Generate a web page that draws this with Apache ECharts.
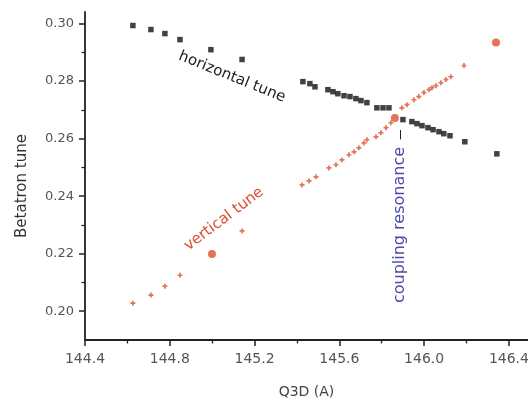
<!DOCTYPE html>
<html><head><meta charset="utf-8">
<script src="https://cdn.jsdelivr.net/npm/echarts@6/dist/echarts.min.js"></script>
<style>html,body{margin:0;padding:0;background:#fff}#c{width:528px;height:400px}</style>
</head><body><div id="c"></div>
<script>
// horizontal tune (black squares)
const hQ3D = [144.626,144.711,144.777,144.848,144.994,145.141,145.428,145.461,145.485,145.546,145.570,145.593,145.622,145.650,145.678,145.702,145.730,145.777,145.806,145.834,145.900,145.942,145.966,145.990,146.018,146.042,146.070,146.093,146.122,146.192,146.343];
const hTune = [0.2993,0.2979,0.2965,0.2944,0.2909,0.2875,0.2798,0.2791,0.2780,0.2770,0.2763,0.2756,0.2749,0.2746,0.2739,0.2732,0.2725,0.2707,0.2707,0.2707,0.2666,0.2659,0.2652,0.2645,0.2638,0.2631,0.2624,0.2617,0.2610,0.2589,0.2547];
// vertical tune (red crosses)
const vQ3D = [144.626,144.711,144.777,144.848,145.141,145.424,145.457,145.490,145.551,145.584,145.612,145.645,145.669,145.692,145.716,145.730,145.773,145.796,145.820,145.843,145.895,145.919,145.952,145.975,145.999,146.023,146.037,146.056,146.079,146.103,146.126,146.188];
const vTune = [0.2028,0.2056,0.2087,0.2125,0.2279,0.2439,0.2453,0.2467,0.2498,0.2509,0.2526,0.2544,0.2554,0.2568,0.2585,0.2596,0.2606,0.2620,0.2638,0.2655,0.2707,0.2718,0.2735,0.2746,0.2760,0.2770,0.2777,0.2784,0.2794,0.2805,0.2815,0.2854];
// vertical tune (red dots)
const vDotQ3D = [144.999,145.862,146.339];
const vDotTune = [0.2199,0.2672,0.2934];
// axes
const xTicks = [144.4,144.8,145.2,145.6,146.0,146.4];
const xMinorTicks = [144.6,145.0,145.4,145.8,146.2];
const yTicks = [0.20,0.22,0.24,0.26,0.28,0.30];
const yMinorTicks = [0.21,0.23,0.25,0.27,0.29];
const xName = 'Q3D (A)';
const yName = 'Betatron tune';

const zip = (a,b) => a.map((v,i)=>[v,b[i]]);
const FONT = '"DejaVu Sans", sans-serif';
const RED = '#dc5030';
const deg = d => d*Math.PI/180;

const chart = echarts.init(document.getElementById('c'), null, {renderer:'canvas'});
const axisCommon = {min:144.4, max:146.49, type:'value', splitLine:{show:false}};
chart.setOption({
  animation:false,
  backgroundColor:'#fff',
  grid:{left:85, right:0, top:12, bottom:60, containLabel:false, outerBoundsMode:'none'},
  xAxis:[
    Object.assign({}, axisCommon, {
      position:'bottom',
      axisLine:{onZero:false, lineStyle:{color:'#222', width:1.8}},
      axisTick:{show:true, inside:false, length:6, customValues:xTicks, lineStyle:{color:'#222', width:1.5}},
      axisLabel:{customValues:xTicks, formatter:v=>v.toFixed(1), color:'#555', fontFamily:FONT, fontSize:14, margin:12},
      name:xName, nameLocation:'middle', nameGap:45,
      nameTextStyle:{color:'#444', fontFamily:FONT, fontSize:14}
    }),
    Object.assign({}, axisCommon, {
      position:'bottom',
      axisLine:{show:false, onZero:false},
      axisTick:{show:true, length:3.5, customValues:xMinorTicks, lineStyle:{color:'#222', width:1.3}},
      axisLabel:{show:false}
    })
  ],
  yAxis:[
    {type:'value', min:0.19, max:0.304, position:'left', splitLine:{show:false},
     axisLine:{show:true, onZero:false, lineStyle:{color:'#222', width:1.8}},
     axisTick:{show:true, length:6, customValues:yTicks, lineStyle:{color:'#222', width:1.5}},
     axisLabel:{customValues:yTicks, formatter:v=>v.toFixed(2), color:'#555', fontFamily:FONT, fontSize:13, margin:11}
    },
    {type:'value', min:0.19, max:0.304, position:'left', splitLine:{show:false},
     axisLine:{show:false, onZero:false},
     axisTick:{show:true, length:3.5, customValues:yMinorTicks, lineStyle:{color:'#222', width:1.3}},
     axisLabel:{show:false}
    }
  ],
  series:[
    {type:'scatter', name:'horizontal tune', data:zip(hQ3D,hTune), symbol:'rect', symbolSize:5.5,
     itemStyle:{color:'#111'},
     markLine:{silent:true, symbol:'none', label:{show:false}, lineStyle:{color:'#222', width:1, type:'solid'},
       data:[[{coord:[145.886,0.2630]},{coord:[145.886,0.2597]}]]}},
    {type:'scatter', name:'vertical tune', data:zip(vQ3D,vTune),
     symbol:'path://M2,0H4V2H6V4H4V6H2V4H0V2H2Z', symbolSize:5, itemStyle:{color:RED}},
    {type:'scatter', name:'vertical tune dots', data:zip(vDotQ3D,vDotTune), symbol:'circle', symbolSize:8, itemStyle:{color:RED}}
  ],
  graphic:[
    {type:'text', x:22, y:186, rotation:deg(90),
     style:{text:yName, fill:'#333', font:'15px '+FONT, textAlign:'center', textVerticalAlign:'middle', align:'center', verticalAlign:'middle'}},
    {type:'text', x:232, y:77, rotation:deg(-22),
     style:{text:'horizontal tune', fill:'#222', font:'15px '+FONT, textAlign:'center', textVerticalAlign:'middle', align:'center', verticalAlign:'middle'}},
    {type:'text', x:224, y:219, rotation:deg(37),
     style:{text:'vertical tune', fill:RED, font:'15px '+FONT, textAlign:'center', textVerticalAlign:'middle', align:'center', verticalAlign:'middle'}},
    {type:'text', x:400, y:225, rotation:deg(90),
     style:{text:'coupling resonance', fill:'#4c4ca8', font:'16px '+FONT, textAlign:'center', textVerticalAlign:'middle', align:'center', verticalAlign:'middle'}}
  ]
});
</script></body></html>
